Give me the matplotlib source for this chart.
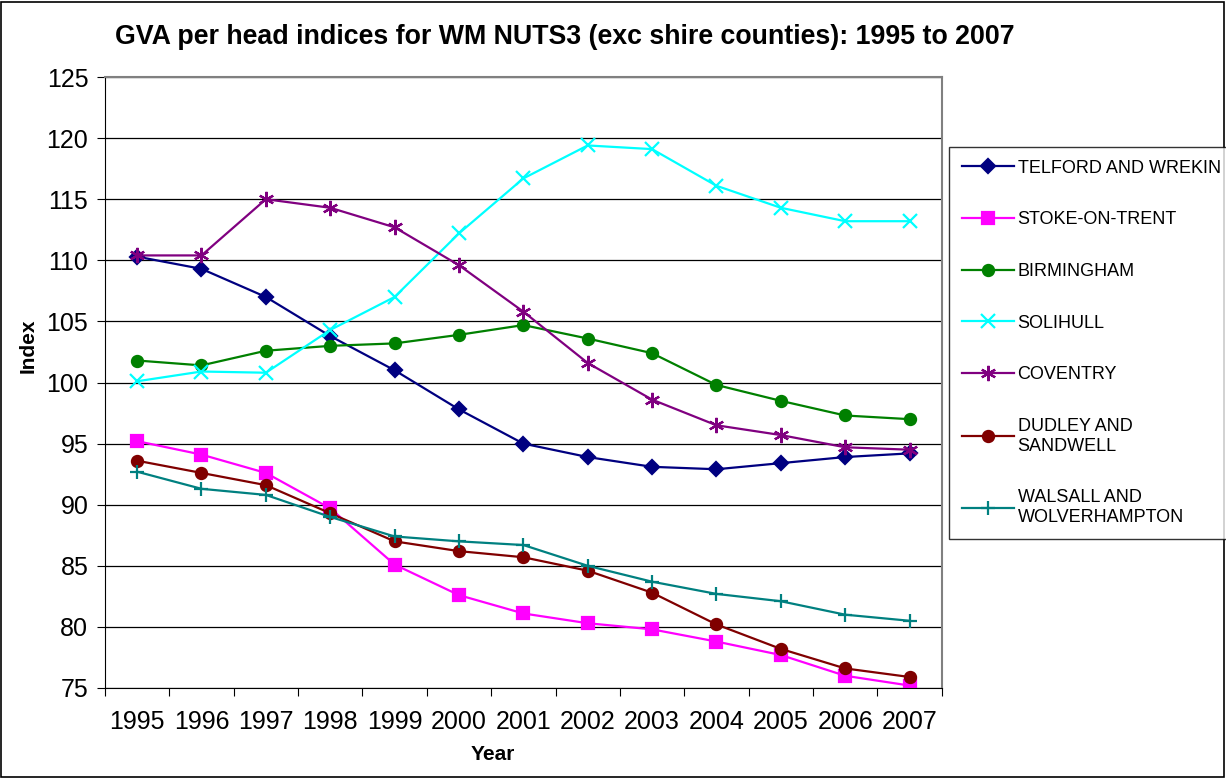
import matplotlib.pyplot as plt
from matplotlib.patches import Rectangle

plt.rcParams['font.family'] = ['Liberation Sans', 'DejaVu Sans']

years = ['1995', '1996', '1997', '1998', '1999', '2000', '2001',
         '2002', '2003', '2004', '2005', '2006', '2007']

telford = [110.3, 109.3, 107.0, 103.8, 101.0, 97.8, 95.0, 93.9, 93.1, 92.9, 93.4, 93.9, 94.2]
stoke = [95.2, 94.1, 92.6, 89.7, 85.1, 82.6, 81.1, 80.3, 79.8, 78.8, 77.7, 76.0, 75.2]
birmingham = [101.8, 101.4, 102.6, 103.0, 103.2, 103.9, 104.7, 103.6, 102.4, 99.8, 98.5, 97.3, 97.0]
solihull = [100.1, 100.9, 100.8, 104.3, 107.0, 112.2, 116.7, 119.4, 119.1, 116.1, 114.3, 113.2, 113.2]
coventry = [110.4, 110.4, 115.0, 114.3, 112.7, 109.6, 105.8, 101.6, 98.6, 96.5, 95.7, 94.7, 94.5]
dudley = [93.6, 92.6, 91.6, 89.3, 87.0, 86.2, 85.7, 84.6, 82.8, 80.2, 78.2, 76.6, 75.9]
walsall = [92.7, 91.3, 90.8, 89.0, 87.4, 87.0, 86.7, 85.0, 83.7, 82.7, 82.1, 81.0, 80.5]

series = [
    ('TELFORD AND WREKIN', telford, '#000080', 'D', 7),
    ('STOKE-ON-TRENT', stoke, '#FF00FF', 's', 8),
    ('BIRMINGHAM', birmingham, '#008000', 'o', 8),
    ('SOLIHULL', solihull, '#00FFFF', 'x', 10),
    ('COVENTRY', coventry, '#800080', (6, 2, 0), 11),
    ('DUDLEY AND\nSANDWELL', dudley, '#800000', 'o', 8),
    ('WALSALL AND\nWOLVERHAMPTON', walsall, '#008080', '+', 10),
]

fig = plt.figure(figsize=(12.26, 7.78), dpi=100)
ax = fig.add_axes([0.0856, 0.1157, 0.6825, 0.7853])

x = list(range(len(years)))
for name, vals, col, mk, ms in series:
    ax.plot(x, vals, color=col, marker=mk, markersize=ms, linewidth=1.6,
            markeredgewidth=1.6, label=name)

ax.set_ylim(75, 125)
ax.set_yticks(range(75, 126, 5))
ax.set_xlim(-0.5, len(years) - 0.5)
ax.set_xticks([i - 0.5 for i in range(len(years) + 1)])
ax.set_xticklabels([])
ax.set_xticks(x, minor=True)
ax.set_xticklabels(years, minor=True)
ax.tick_params(axis='x', which='minor', length=0, labelsize=18, pad=16)
ax.tick_params(axis='x', which='major', length=6, direction='out')
ax.tick_params(axis='y', length=6, direction='out', labelsize=18, pad=6)
ax.grid(axis='y', color='black', linewidth=0.9)
ax.set_axisbelow(True)
for s in ['top', 'right']:
    ax.spines[s].set_color('#808080')
    ax.spines[s].set_linewidth(1.5)

ax.set_xlabel('Year', fontsize=15, fontweight='bold')
ax.set_ylabel('Index', fontsize=15, fontweight='bold')
ax.xaxis.set_label_coords(0.464, -0.094)
ax.yaxis.set_label_coords(-0.081, 0.56)
fig.text(0.461, 0.952, 'GVA per head indices for WM NUTS3 (exc shire counties): 1995 to 2007',
         ha='center', va='center', fontsize=19.3, fontweight='bold')

leg = fig.legend(loc='upper left', bbox_to_anchor=(0.774, 0.811), fontsize=13,
                 frameon=True, fancybox=False, edgecolor='black', labelspacing=1.92,
                 handlelength=2.9, handletextpad=0.2, borderpad=0.7, borderaxespad=0)
leg.get_frame().set_linewidth(1.0)

fig.patches.append(Rectangle((0.001, 0.001), 0.997, 0.997, transform=fig.transFigure,
                             fill=False, edgecolor='black', linewidth=1.2))

fig.savefig('out.png', dpi=100)
